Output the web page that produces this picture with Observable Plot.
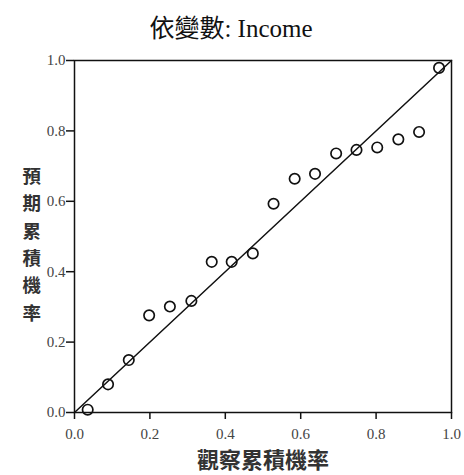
<!DOCTYPE html>
<html>
<head>
<meta charset="utf-8">
<script src="https://cdn.jsdelivr.net/npm/d3@7"></script>
<script src="https://cdn.jsdelivr.net/npm/@observablehq/plot@0.6"></script>
<style>
  body { margin: 0; background: #fff; }
  #chart { width: 464px; height: 475px; }
</style>
</head>
<body>
<div id="chart"></div>
<script>
const titleText = "依變數: Income";
const xLabel = "觀察累積機率";
const yLabel = "預期累積機率";
const tickValues = [0, 0.2, 0.4, 0.6, 0.8, 1.0];
const observed = [0.035, 0.089, 0.144, 0.198, 0.253, 0.310, 0.364, 0.417, 0.473, 0.528, 0.584, 0.638, 0.694, 0.748, 0.803, 0.859, 0.914, 0.967];
const expected = [0.008, 0.080, 0.149, 0.276, 0.301, 0.317, 0.428, 0.428, 0.452, 0.593, 0.664, 0.678, 0.736, 0.746, 0.753, 0.776, 0.797, 0.979];
const refLine = [0, 1];

const points = observed.map((o, i) => ({x: o, y: expected[i]}));

const serif = "'Liberation Serif', 'Times New Roman', serif";
const cjk = "'Noto Sans CJK TC', 'Noto Sans CJK SC', sans-serif";

const chart = Plot.plot({
  width: 464,
  height: 475,
  marginLeft: 74,
  marginRight: 13,
  marginTop: 60,
  marginBottom: 63,
  style: {fontFamily: serif, fontSize: "15px", background: "#fff"},
  x: {domain: [0, 1]},
  y: {domain: [0, 1]},
  marks: [
    Plot.frame({stroke: "#111", strokeWidth: 1.5}),
    Plot.axisX({ticks: tickValues, tickFormat: d3.format(".1f"), tickSize: 7, tickPadding: 9, stroke: "#111", strokeWidth: 1.5, fill: "#444", fontSize: 15, label: null}),
    Plot.axisY({ticks: tickValues, tickFormat: d3.format(".1f"), tickSize: 8, tickPadding: 1, stroke: "#111", strokeWidth: 1.5, fill: "#444", fontSize: 15, label: null}),
    Plot.line(refLine, {x: d => d, y: d => d, stroke: "#111", strokeWidth: 1.5}),
    Plot.dot(points, {x: "x", y: "y", r: 5.2, stroke: "#111", strokeWidth: 1.7, fill: "none"}),
    Plot.text([titleText], {text: d => d, frameAnchor: "top", lineAnchor: "middle", dx: -32, dy: -32, fontSize: 25, fill: "#111", fontFamily: `'Liberation Serif', ${cjk}`}),
    Plot.text([xLabel], {text: d => d, frameAnchor: "bottom", lineAnchor: "middle", dx: 0, dy: 48, fontSize: 22, fontWeight: "bold", fill: "#333", fontFamily: cjk}),
    Plot.text([yLabel], {text: d => d.split("").join("\n"), frameAnchor: "left", lineAnchor: "middle", dx: -52, dy: 6, lineHeight: 1.48, fontSize: 18.5, fontWeight: "bold", fill: "#333", fontFamily: cjk})
  ]
});
document.getElementById("chart").appendChild(chart);
</script>
</body>
</html>
